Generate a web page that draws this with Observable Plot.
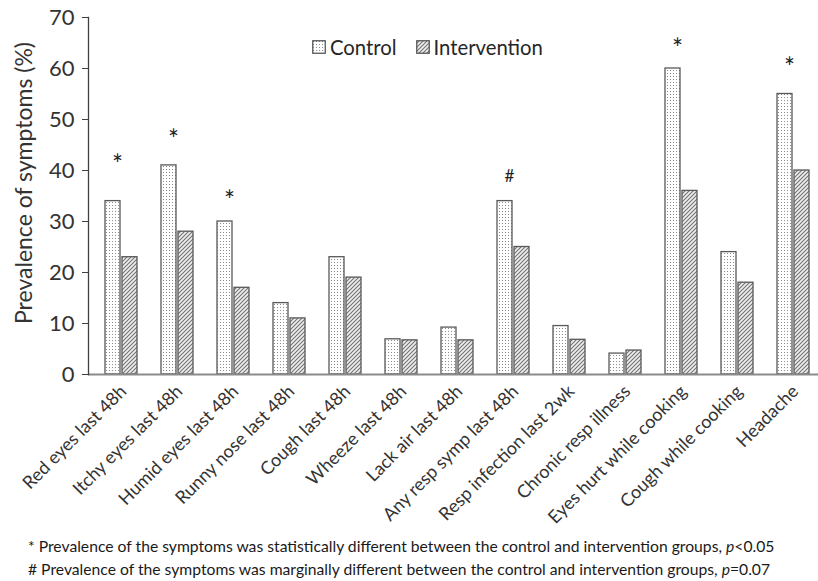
<!DOCTYPE html>
<html><head><meta charset="utf-8">
<script src="https://cdn.jsdelivr.net/npm/d3@7"></script>
<script src="https://cdn.jsdelivr.net/npm/@observablehq/plot@0.6"></script>
<style>
body{margin:0;background:#fff;font-family:Lato,"Open Sans",sans-serif;overflow:hidden}
#wrap{position:relative;width:818px;height:581px;overflow:hidden}
#chart svg{display:block}
.legend{position:absolute;top:35px;left:312px;display:flex;align-items:center;font-size:20.3px;color:#262626}
.legend .item{display:flex;align-items:center;margin-right:19px}
.legend svg{margin-right:4px}
.note{position:absolute;left:28px;font-size:15.7px;color:#1a1a1a;white-space:nowrap}
</style></head><body>
<svg width="0" height="0" style="position:absolute">
  <defs>
    <pattern id="dots" width="3" height="3" patternUnits="userSpaceOnUse">
      <rect width="3" height="3" fill="#fff"/>
      <rect x="1" y="1" width="1" height="1" fill="#8c8c8c"/>
    </pattern>
    <pattern id="hatch" width="4" height="4" patternUnits="userSpaceOnUse">
      <rect width="4" height="4" fill="#eeeeee"/>
      <path d="M-1,1 L1,-1 M0,4 L4,0 M3,5 L5,3" stroke="#737373" stroke-width="1.1"/>
    </pattern>
  </defs>
</svg>
<div id="wrap">
  <div id="chart"></div>
  <div class="legend">
    <div class="item"><svg width="14" height="14"><rect x="0.75" y="0.75" width="12.5" height="12.5" fill="url(#dots)" stroke="#595959" stroke-width="1.3"/></svg>Control</div>
    <div class="item"><svg width="14" height="14"><rect x="0.75" y="0.75" width="12.5" height="12.5" fill="url(#hatch)" stroke="#595959" stroke-width="1.3"/></svg>Intervention</div>
  </div>
  <div class="note" style="top:537px">* Prevalence of the symptoms was statistically different between the control and intervention groups, <i>p</i>&lt;0.05</div>
  <div class="note" style="top:560px"># Prevalence of the symptoms was marginally different between the control and intervention groups, <i>p</i>=0.07</div>
</div>
<script>
const categories = ["Red eyes last 48h","Itchy eyes last 48h","Humid eyes last 48h","Runny nose last 48h","Cough last 48h","Wheeze last 48h","Lack air last 48h","Any resp symp last 48h","Resp infection last 2wk","Chronic resp illness","Eyes hurt while cooking","Cough while cooking","Headache"];
const controlValues = [34, 41, 30, 14, 23, 6.9, 9.2, 34, 9.5, 4.1, 60, 24, 55];
const interventionValues = [23, 28, 17, 11, 19, 6.7, 6.7, 25, 6.8, 4.7, 36, 18, 40];
const markerCategories = ["Red eyes last 48h","Itchy eyes last 48h","Humid eyes last 48h","Any resp symp last 48h","Eyes hurt while cooking","Headache"];
const markerSymbols = ["*","*","*","#","*","*"];
const markerHeights = [42.4, 47.2, 35.3, 39.0, 65.0, 61.4];
const yTicks = [0, 10, 20, 30, 40, 50, 60, 70];
const yLabel = "Prevalence of symptoms (%)";

const data = categories.map((c, i) => ({category: c, control: controlValues[i], intervention: interventionValues[i]}));
const markers = markerCategories.map((c, i) => ({category: c, sym: markerSymbols[i], y: markerHeights[i]}));

const chart = Plot.plot({
  width: 818, height: 540,
  marginTop: 17, marginBottom: 166, marginLeft: 88, marginRight: 0,
  style: {fontFamily: "Lato, 'Open Sans', sans-serif", color: "#333", background: "white", overflow: "visible"},
  x: {domain: categories, range: [89, 826], paddingInner: 0.42, paddingOuter: 0.21, align: 0.5},
  y: {domain: [0, 70]},
  marks: [
    Plot.barY(data, {x: "category", y: "control", fill: "url(#dots)", stroke: "#595959", strokeWidth: 1.3, insetRight: 17}),
    Plot.barY(data, {x: "category", y: "intervention", fill: "url(#hatch)", stroke: "#595959", strokeWidth: 1.3, insetLeft: 17}),
    Plot.ruleY([0], {stroke: "#8a8a8a", strokeWidth: 2}),
    Plot.frame({anchor: "left", stroke: "#404040", strokeWidth: 1.3}),
    Plot.axisY({ticks: yTicks, tickSize: 6, tickPadding: 8, fontSize: 22, stroke: "#404040", label: null}),
    Plot.text([yLabel], {frameAnchor: "left", textAnchor: "middle", text: d => d, rotate: -90, dx: -64, dy: -13, fontSize: 23, fill: "#333"}),
    Plot.axisX({tickSize: 0, tickRotate: -45, fontSize: 18, tickPadding: 14, dx: 2, label: null}),
    Plot.text(markers.filter(d => d.sym === "*"), {x: "category", y: "y", text: "sym", dx: -4, dy: 7, fontSize: 26, fill: "#222"}),
    Plot.text(markers.filter(d => d.sym === "#"), {x: "category", y: "y", text: "sym", dx: -4, dy: 1, fontSize: 17, fill: "#222"})
  ]
});
document.getElementById("chart").appendChild(chart);
</script>
</body></html>
